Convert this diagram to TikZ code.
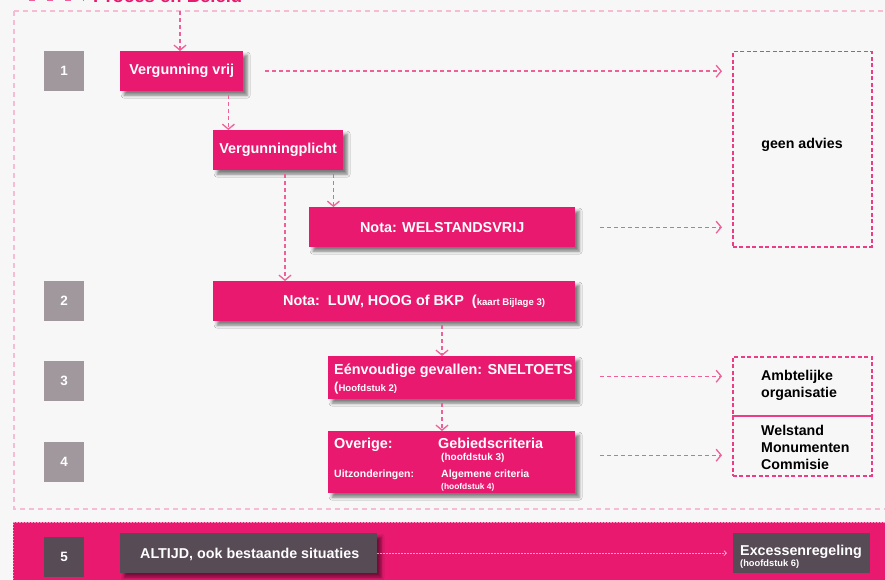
\documentclass[tikz,border=0pt]{standalone}
\usepackage{fontspec}
\setmainfont{Liberation Sans}
\usetikzlibrary{arrows.meta,shadows.blur}
\definecolor{mag}{HTML}{E8196F}
\definecolor{numgray}{HTML}{A0989C}
\definecolor{darkbox}{HTML}{574B55}
\definecolor{arr}{HTML}{EF5F98}
\definecolor{lpink}{HTML}{F6BCD3}
\definecolor{bg}{HTML}{F7F7F7}
\newcommand{\fs}[1]{\fontsize{#1}{#1}\selectfont}
\begin{document}
\begin{tikzpicture}[x=1pt,y=-1pt,
  shd/.style={blur shadow={shadow xshift=4pt, shadow yshift=-4pt, shadow blur radius=3pt, shadow opacity=50}},
  box/.style={fill=mag, anchor=north west, inner sep=0pt, text=white, font=\bfseries\fs{14.4}, shd},
  num/.style={fill=numgray, anchor=north west, minimum width=40pt, minimum height=40pt, inner sep=0pt, text=white, font=\bfseries\fs{13.5}},
  dbox/.style={fill=darkbox, anchor=north west, inner sep=0pt, text=white},
  wt/.style={text=white, inner sep=0pt, anchor=base west},
  bt/.style={text=black, inner sep=0pt, font=\bfseries\fontsize{14.2}{17}\selectfont},
  dashbox/.style={draw=mag!85!white, line width=1.5pt, dash pattern=on 4pt off 2.5pt, anchor=north west, inner sep=0pt},
  con/.style={draw=arr, line width=1.4pt, dash pattern=on 4pt off 3pt, -{Straight Barb[length=5pt,width=12pt,line width=1.3pt]}},
]
\useasboundingbox (0,0) rectangle (885,580);
\fill[bg] (0,0) rectangle (885,580);

% title (cut off at top)
\draw[arr, line width=2pt, dash pattern=on 6pt off 12pt] (29,0) -- (84,0);
\node[text=mag, inner sep=0pt, anchor=base west, font=\bfseries\fs{18.5}] (title) at (93,2.2) {Proces en Beleid};

% outer dashed frame
\draw[lpink, line width=1.5pt, dash pattern=on 5pt off 4pt] (14,11) rectangle (900,509);

% bottom band
\fill[mag] (13,522) rectangle (890,585);
\draw[white, opacity=0.55, line width=0.8pt, dash pattern=on 1.5pt off 1.5pt] (13,585) -- (13,522) -- (890,522);

% number boxes
\node[num] (n1) at (44,51) {1};
\node[num] (n2) at (44,281) {2};
\node[num] (n3) at (44,361) {3};
\node[num] (n4) at (44,442) {4};
\node[num, fill=darkbox] (n5) at (44,537) {5};

% main boxes
\node[box, minimum width=123pt, minimum height=40pt] (vv) at (120,51) {Vergunning vrij};
\node[box, minimum width=130pt, minimum height=40pt] (vp) at (213,130) {Vergunningplicht};
\node[box, minimum width=266pt, minimum height=40pt] (welst) at (309,207) {Nota: WELSTANDSVRIJ};
\node[box, minimum width=362pt, minimum height=40pt] (luw) at (213,281) {};
\node[box, minimum width=247pt, minimum height=43pt] (een) at (328,356) {};
\node[box, minimum width=247pt, minimum height=62pt] (ove) at (328,431) {};

\node[wt, font=\bfseries\fs{14.4}] (luwt) at (283,305.2) {Nota:\ \ LUW, HOOG of BKP\ \ ({\fs{9.6}kaart Bijlage 3)}};
\node[wt, font=\bfseries\fs{14.4}] (eent) at (334,374.2) {Eénvoudige gevallen: SNELTOETS};
\node[wt, font=\bfseries\fs{13}] (eens) at (334,391) {({\fs{9.6}Hoofdstuk 2)}};
\node[wt, font=\bfseries\fs{14.4}] (ovt) at (334,448.2) {Overige:};
\node[wt, font=\bfseries\fs{14.4}] (gbt) at (438,448.2) {Gebiedscriteria};
\node[wt, font=\bfseries\fs{10}] (h3) at (441,460.6) {(hoofdstuk 3)};
\node[wt, font=\bfseries\fs{10.5}] (uzt) at (334,477.8) {Uitzonderingen:};
\node[wt, font=\bfseries\fs{10.5}] (alg) at (441,477.8) {Algemene criteria};
\node[wt, font=\bfseries\fs{8.4}] (h4) at (441,489) {(hoofdstuk 4)};

% right dashed boxes
\node[dashbox, minimum width=139pt, minimum height=195pt] (geen) at (732,51) {};
\node[bt] (geent) at (802,145) {geen advies};
\node[dashbox, minimum width=139pt, minimum height=59pt] (amb) at (732,356) {};
\node[dashbox, minimum width=139pt, minimum height=60pt] (wmc) at (732,415) {};
\node[bt, anchor=west, align=left] (ambt) at (761,385.5) {Ambtelijke\\organisatie};
\node[bt, anchor=west, align=left] (wmct) at (761,447) {Welstand\\Monumenten\\Commisie};

% band boxes
\node[dbox, minimum width=257pt, minimum height=40pt, shd] (alt) at (120,533) {};
\node[wt, font=\bfseries\fs{14.3}] (altt) at (140,558.2) {ALTIJD, ook bestaande situaties};
\node[dbox, minimum width=137pt, minimum height=40pt] (exc) at (733,533) {};
\node[wt, font=\bfseries\fs{14.3}] (exct) at (740,555.2) {Excessenregeling};
\node[wt, font=\bfseries\fs{9.3}] (h6) at (740,566.5) {(hoofdstuk 6)};

% connectors
\coordinate (start) at (180,11);
\draw[con] (start) -- (start |- vv.north);
\draw[con, shorten <=22pt, shorten >=10pt] (vv.east) -- (vv.east -| geen.west);
\draw[con, shorten <=4pt] ([xshift=-15pt]vv.south east) -- ([xshift=-15pt]vv.south east |- vp.north);
\draw[con, shorten <=4pt] ([xshift=-10pt]vp.south east) -- ([xshift=-10pt]vp.south east |- welst.north);
\draw[con, shorten <=4pt] ([xshift=72pt]vp.south west) -- ([xshift=72pt]vp.south west |- luw.north);
\draw[con, shorten <=25pt, shorten >=10pt] (welst.east) -- (welst.east -| geen.west);
\draw[con, shorten <=4pt] ([xshift=229pt]luw.south west) -- ([xshift=229pt]luw.south west |- een.north);
\draw[con, shorten <=4pt] ([xshift=114pt]een.south west) -- ([xshift=114pt]een.south west |- ove.north);
\draw[con, shorten <=25pt, shorten >=10pt] ([yshift=1.5pt]een.east) -- ([yshift=1.5pt]een.east -| amb.west);
\draw[con, shorten <=25pt, shorten >=10pt] ([yshift=7pt]ove.east) -- ([yshift=7pt]ove.east -| wmc.west);
\draw[white, opacity=0.6, line width=1pt, dash pattern=on 1.5pt off 1.5pt, -{Straight Barb[length=2.5pt,width=5pt,line width=0.8pt]}, shorten >=6pt] (alt.east) -- (exc.west);
\end{tikzpicture}
\end{document}
